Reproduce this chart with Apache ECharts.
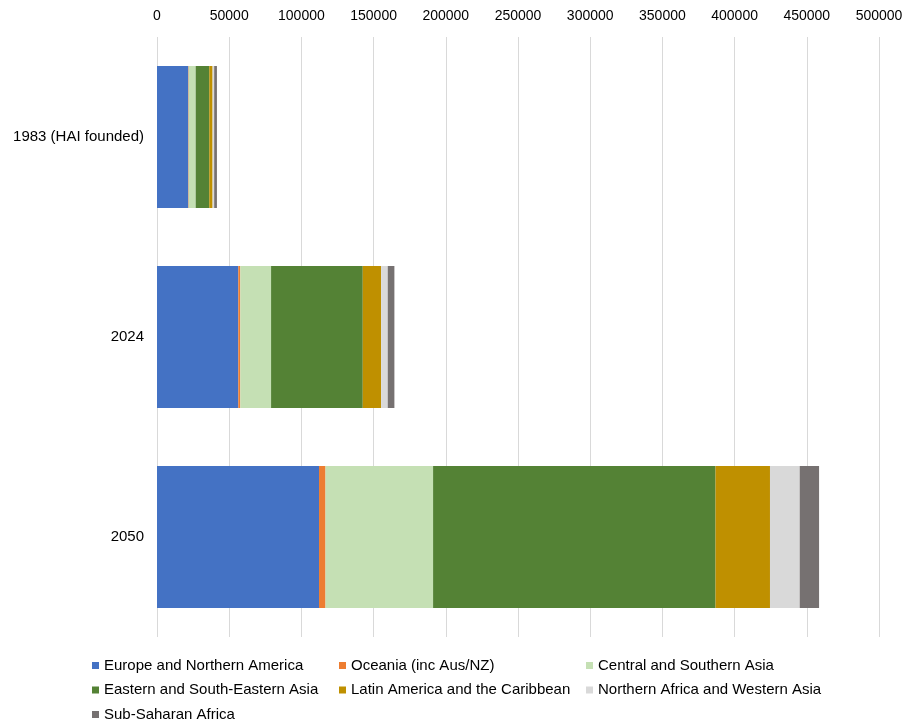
<!DOCTYPE html>
<html>
<head>
<meta charset="utf-8">
<script src="https://cdn.jsdelivr.net/npm/echarts@6/dist/echarts.min.js"></script>
<style>
  html, body { margin: 0; padding: 0; background: #fff; }
  #main { width: 904px; height: 722px; }
</style>
</head>
<body>
<div id="main"></div>
<script>
// population aged 80+ (thousands)
const years = ["1983 (HAI founded)", "2024", "2050"];
const regions = [
    "Europe and Northern America",
    "Oceania (inc Aus/NZ)",
    "Central and Southern Asia",
    "Eastern and South-Eastern Asia",
    "Latin America and the Caribbean",
    "Northern Africa and Western Asia",
    "Sub-Saharan Africa",
];
const europe = [21700, 56300, 112200];
const oceania = [300, 1400, 4500];
const centralAsia = [4800, 21300, 74500];
const eastAsia = [9400, 63500, 195600];
const latinAmerica = [2300, 12700, 37700];
const northAfrica = [1100, 4600, 20600];
const subSaharan = [1900, 4600, 13400];
const colors = ["#4472c4", "#ed7d31", "#c5e0b4", "#548235", "#bf9000", "#d9d9d9", "#767171"];
const xTicks = { min: 0, max: 500000, interval: 50000 };

let dom = document.getElementById("main");
let myChart = echarts.init(dom, null, { renderer: "canvas" });

const values = [europe, oceania, centralAsia, eastAsia, latinAmerica, northAfrica, subSaharan];
const textStyle = { fontFamily: "Liberation Sans", fontSize: 14, color: "#000" };
const bigText = { ...textStyle, fontSize: 15 };

function legendColumn(left, names) {
    return {
        orient: "vertical",
        left: left,
        top: 653,
        height: 120,
        itemWidth: 7,
        itemHeight: 7,
        itemGap: 9.5,
        icon: "rect",
        textStyle: bigText,
        data: names,
    };
}

let option = {
    color: colors,
    animation: false,
    grid: { left: 157, right: 25, top: 37, bottom: 85, containLabel: false, outerBoundsMode: "none" },
    legend: [
        legendColumn(87, [regions[0], regions[3], regions[6]]),
        legendColumn(334, [regions[1], regions[4]]),
        legendColumn(581, [regions[2], regions[5]]),
    ],
    xAxis: {
        type: "value",
        position: "top",
        min: xTicks.min,
        max: xTicks.max,
        interval: xTicks.interval,
        axisLine: { show: false },
        axisTick: { show: false },
        axisLabel: { ...textStyle, margin: 14, formatter: (v) => String(v) },
        splitLine: { lineStyle: { color: "#d9d9d9", width: 1 } },
    },
    yAxis: {
        type: "category",
        inverse: true,
        data: years,
        axisLine: { show: false },
        axisTick: { show: false },
        axisLabel: { ...bigText, margin: 13 },
    },
    series: regions.map((name, i) => ({
        name: name,
        type: "bar",
        stack: "total",
        barCategoryGap: "29%",
        data: values[i],
        itemStyle: { color: colors[i] },
    })),
};

myChart.setOption(option);
window.addEventListener("resize", myChart.resize);
</script>
</body>
</html>
